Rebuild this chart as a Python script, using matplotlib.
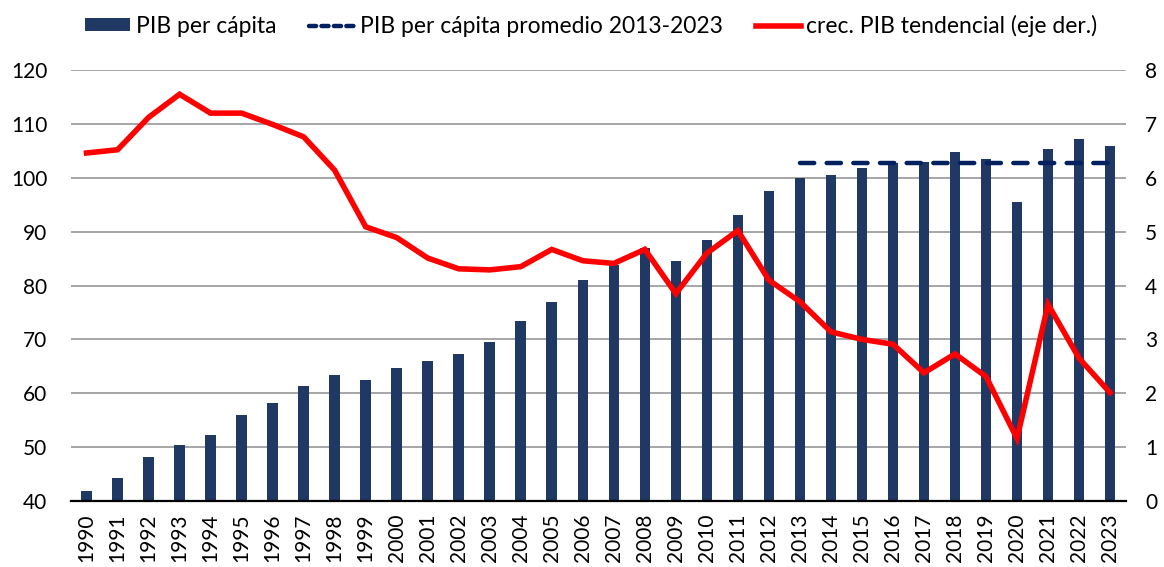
import numpy as np
import matplotlib
matplotlib.use("Agg")
import matplotlib.pyplot as plt
from matplotlib.patches import Patch
from matplotlib.lines import Line2D

plt.rcParams['font.family'] = ['Lato', 'DejaVu Sans']

# ---------------- data ----------------
years = list(range(1990, 2024))
pib_pc = [41.9, 44.3, 48.2, 50.4, 52.2, 56.0, 58.1, 61.4, 63.3, 62.4,
          64.6, 65.9, 67.2, 69.6, 73.5, 77.0, 81.0, 83.8, 86.9, 84.5,
          88.5, 93.1, 97.6, 100.0, 100.6, 101.8, 102.8, 103.0, 104.7, 103.5,
          95.5, 105.3, 107.2, 105.9]
crec_tend = [6.46, 6.52, 7.12, 7.55, 7.20, 7.20, 6.99, 6.76, 6.14, 5.09,
             4.89, 4.51, 4.31, 4.29, 4.35, 4.67, 4.46, 4.41, 4.67, 3.85,
             4.60, 5.02, 4.10, 3.70, 3.14, 3.00, 2.91, 2.38, 2.73, 2.31,
             1.16, 3.65, 2.65, 2.01]
prom_start, prom_end = 2013, 2023

bar_color = '#203864'
dash_color = '#002060'
red = '#FF0000'
grid_color = '#A6A6A6'

x = np.arange(len(years))
i0 = years.index(prom_start)
i1 = years.index(prom_end)
promedio = np.mean(pib_pc[i0:i1 + 1])

fig = plt.figure(figsize=(11.64, 5.67), dpi=100)
ax = fig.add_axes([0.061, 0.1164, 0.906, 0.7601])
ax2 = ax.twinx()

ax.bar(x, pib_pc, width=0.34, color=bar_color, zorder=2)
ax.plot([x[i0], x[i1]], [promedio, promedio], color=dash_color, lw=3.2,
        dashes=(3.2, 2.8), dash_capstyle='round', zorder=3)
ax2.plot(x, crec_tend, color=red, lw=4, solid_joinstyle='miter', zorder=4)

ax.set_xlim(-0.5, len(years) - 0.5)
ax.set_ylim(40, 120)
ax.set_yticks(range(40, 121, 10))
ax2.set_ylim(0, 8)
ax2.set_yticks(range(0, 9))

ax.yaxis.grid(True, color=grid_color, lw=1.4)
ax.set_axisbelow(True)

for a in (ax, ax2):
    for s in ('top', 'left', 'right', 'bottom'):
        a.spines[s].set_visible(False)
ax.spines['bottom'].set_visible(True)
ax.spines['bottom'].set_color('black')
ax.spines['bottom'].set_linewidth(1.6)
ax.spines['bottom'].set_zorder(5)

ax.set_xticks(x)
ax.set_xticklabels([str(y) for y in years], rotation=90)
ax.tick_params(axis='x', length=0, pad=9, labelsize=15)
ax.tick_params(axis='y', length=0, pad=17, labelsize=15)
ax2.tick_params(axis='y', length=0, pad=14, labelsize=15)

handles = [
    Patch(facecolor=bar_color, edgecolor='none'),
    Line2D([0], [0], color=dash_color, lw=3.2, dashes=(1.6, 1.2), dash_capstyle='round'),
    Line2D([0], [0], color=red, lw=4),
]
labels = ['PIB per cápita', 'PIB per cápita promedio 2013-2023',
          'crec. PIB tendencial (eje der.)']
fig.legend(handles, labels, loc='upper center', bbox_to_anchor=(0.508, 1.01),
           ncol=3, frameon=False, fontsize=16.5, handlelength=1.95,
           handleheight=0.5, handletextpad=0.25, columnspacing=1.45)

fig.savefig('out.png', dpi=100)
